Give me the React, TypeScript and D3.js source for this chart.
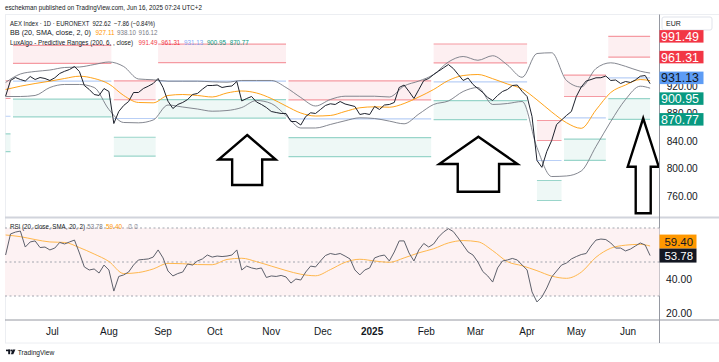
import React from "react";
import * as d3 from "d3";

// ---------- DATA ----------
// daily closes sampled every 2 bars (bar 0 = early Jun 2024, bar 262 = 13 Jun 2025)
const priceBars = d3.range(0, 263, 2);
const priceClose = [
  904.4, 927.3, 931.6, 928.7, 926.5, 933.1, 928.7, 931.6, 930.2, 927.3,
  931.2, 937.5, 940.7, 943.3, 947.6, 940.4, 920.0, 914.2, 906.9, 905.5,
  915.6, 911.3, 864.7, 882.2, 890.9, 896.7, 909.8, 909.8, 915.6, 919.0,
  922.9, 930.2, 917.1, 897.2, 886.5, 892.4, 895.3, 899.6, 906.9, 908.4,
  914.6, 920.0, 920.0, 920.7, 917.1, 918.5, 919.3, 925.8, 897.5, 901.1,
  904.0, 896.0, 892.4, 888.0, 882.2, 880.7, 879.3, 879.3, 867.6, 867.6,
  862.5, 874.9, 880.3, 879.3, 885.1, 890.9, 893.4, 892.4, 896.7, 893.1,
  891.3, 889.5, 877.8, 879.3, 877.8, 889.5, 885.1, 891.6, 892.4, 895.3,
  917.1, 920.7, 911.3, 901.1, 914.2, 927.3, 930.2, 936.0, 940.8, 945.7,
  950.5, 944.7, 936.0, 927.3, 930.9, 921.5, 915.6, 909.8, 902.5, 898.2,
  905.5, 911.3, 914.2, 920.0, 920.7, 911.3, 904.0, 874.9, 811.0, 801.0,
  824.0, 840.0, 863.3, 869.8, 876.4, 882.2, 904.0, 917.8, 926.5, 928.7,
  931.2, 931.3, 933.8, 927.3, 928.0, 922.9, 925.8, 924.4, 928.0, 933.5,
  934.5, 922.62,
];
const rsiValues = [
  54.1, 66.5, 67.6, 68.2, 58.8, 61.8, 62.4, 58.5, 58.8, 57.1,
  58.2, 61.5, 60.6, 61.8, 62.9, 55.3, 47.1, 45.3, 45.9, 43.5,
  48.2, 45.3, 32.9, 41.5, 42.4, 44.1, 48.2, 51.2, 51.5, 51.8,
  52.9, 57.1, 52.4, 44.7, 41.8, 43.2, 44.1, 48.8, 48.2, 50.6,
  51.8, 54.1, 52.9, 53.5, 53.2, 53.5, 54.1, 57.1, 45.3, 47.6,
  46.5, 45.9, 46.5, 40.9, 41.8, 41.5, 42.1, 41.2, 37.6, 40.0,
  39.4, 44.1, 47.6, 47.1, 50.6, 53.8, 55.0, 54.4, 55.0, 53.5,
  51.8, 45.3, 42.4, 45.3, 46.5, 52.4, 53.5, 54.1, 50.6, 55.9,
  62.4, 62.4, 55.3, 50.6, 57.1, 60.9, 58.8, 60.6, 64.7, 67.6,
  69.6, 67.9, 64.1, 60.0, 55.9, 54.1, 50.0, 44.4, 41.8, 38.2,
  46.5, 50.6, 51.2, 52.1, 51.2, 48.2, 45.3, 32.4, 26.5, 29.4,
  34.7, 41.2, 44.7, 48.2, 49.4, 51.8, 53.2, 54.4, 55.0, 59.4,
  62.9, 63.5, 63.2, 61.2, 58.2, 58.2, 56.5, 57.6, 59.4, 61.2,
  60.0, 53.78,
];

// smoother series sampled every 6 bars (+ last bar)
const slowBars = d3.range(0, 259, 6).concat([262]);
const bbUpper = [
  924.4, 936.7, 940.4, 942.5, 946.2, 946.9, 950.5, 954.2, 947.6, 929.5,
  928.3, 926.3, 926.3, 926.3, 925.4, 924.8, 927.3, 927.3, 927.3, 917.1,
  902.5, 890.2, 899.6, 904.4, 904.4, 904.4, 903.3, 919.3, 926.5, 936.0,
  954.2, 962.2, 956.7, 963.3, 949.8, 931.9, 966.5, 967.6, 927.3, 917.8,
  944.7, 953.0, 947.9, 940.8, 938.1,
];
const bbBasis = [
  914.2, 919.0, 922.9, 926.3, 930.2, 933.5, 930.2, 922.2, 905.5, 895.3,
  894.8, 905.5, 906.9, 905.5, 903.3, 909.1, 912.0, 909.1, 901.1, 890.2,
  880.0, 875.6, 876.4, 882.2, 887.6, 889.0, 888.4, 893.8, 903.3, 914.2,
  927.3, 934.5, 936.0, 929.9, 922.2, 914.9, 899.2, 881.5, 865.9, 857.7,
  884.4, 909.8, 920.7, 928.7, 927.11,
];
const bbLower = [
  904.0, 904.0, 905.5, 917.1, 921.5, 921.5, 917.1, 885.1, 866.2, 865.7,
  869.8, 891.6, 888.7, 885.8, 882.6, 883.6, 888.0, 898.2, 893.8, 876.4,
  858.2, 858.2, 863.3, 868.7, 873.0, 872.0, 868.2, 864.3, 878.5, 892.4,
  897.5, 911.3, 917.1, 892.4, 893.8, 896.7, 829.8, 787.6, 788.4, 795.6,
  831.3, 867.6, 899.6, 919.0, 916.12,
];
const rsiMA = [
  65.9, 64.9, 63.2, 61.8, 61.5, 58.5, 54.7, 50.3, 43.2, 43.8,
  45.9, 49.2, 49.0, 48.5, 48.4, 51.5, 52.2, 50.2, 47.6, 45.0,
  42.8, 41.9, 45.5, 49.8, 51.6, 50.6, 49.8, 52.4, 55.4, 57.8,
  61.2, 62.6, 61.9, 56.7, 50.2, 47.8, 44.9, 41.7, 40.4, 44.0,
  52.8, 58.1, 59.9, 60.4, 59.40,
];

// LuxAlgo predictive ranges: segments (bar start / end) and their 5 levels
const prStart = [0, 3, 44, 62, 115, 174, 216, 227, 245];
const prEnd = [2, 43, 61, 114, 173, 212, 226, 244, 262];
const prR2 = [926.9, 978.3, 926.6, 980.1, 926.6, 980.4, 869.1, 935.0, 991.49];
const prR1 = [901.1, 952.3, 899.3, 953.2, 899.1, 952.9, 840.0, 904.0, 961.31];
const prAvg = [875.3, 926.3, 872.0, 926.3, 871.6, 925.4, 810.9, 873.0, 931.13];
const prS1 = [849.5, 900.3, 844.7, 899.4, 844.1, 897.9, 781.8, 842.0, 900.95];
const prS2 = [823.7, 874.3, 817.4, 872.5, 816.6, 870.4, 752.7, 811.0, 870.77];

// time axis
const monthBars = [19, 42, 64, 85, 108, 129, 149, 171, 191, 212, 232, 253];
const monthLabels = ["Jul", "Aug", "Sep", "Oct", "Nov", "Dec", "2025", "Feb", "Mar", "Apr", "May", "Jun"];

// axis ticks
const priceTicks = [760, 800, 840, 880, 920];
const rsiTicks = [20, 40];
const rsiLevels = [70, 50, 30];

// hand-drawn up arrows (bar, tip, head base, shaft bottom, half widths in bars)
const arrowBar = [98.2, 192.2, 259.2];
const arrowTip = [848.0, 845.5, 872.3];
const arrowHead = [812.4, 805.8, 801.9];
const arrowBase = [775.3, 765.5, 734.1];
const arrowHeadHalf = [11.6, 15.9, 6.3];
const arrowShaftHalf = [6.1, 8.4, 3.05];

// ---------- STYLE ----------
const FONT = "'Liberation Sans', Arial, sans-serif";
const TXT = "#131722";
const RED = "#f23645";
const GREEN = "#089981";
const BLUE = "#5d9cf5";

export default function App() {
  const W = 719;
  const H = 362;
  const left = 5;
  const axisX = 659.5;
  const mainTop = 14.5;
  const mainBot = 217.5;
  const rsiTop = 218.5;
  const rsiBot = 320;
  const timeBot = 343;

  const x = d3.scaleLinear().domain([0, 262]).range([5.6, 650.1]);
  const yP = d3.scaleLinear().domain([760, 840]).range([195.5, 140.5]);
  const yR = d3.scaleLinear().domain([20, 40]).range([313, 279]);

  const priceLine = d3.line<number>().x((_, i) => x(priceBars[i])).y((d) => yP(d));
  const slowLine = d3
    .line<number>()
    .x((_, i) => x(slowBars[i]))
    .y((d) => yP(d))
    .curve(d3.curveMonotoneX);
  const rsiLine = d3.line<number>().x((_, i) => x(priceBars[i])).y((d) => yR(d));
  const rsiMaLine = d3
    .line<number>()
    .x((_, i) => x(slowBars[i]))
    .y((d) => yR(d))
    .curve(d3.curveMonotoneX);

  const last = prStart.length - 1;
  const mainLabels = [
    { v: prR2[last], bg: RED, fg: "#ffffff" },
    { v: prR1[last], bg: RED, fg: "#ffffff" },
    { v: prAvg[last], bg: BLUE, fg: TXT },
    { v: prS1[last], bg: GREEN, fg: "#ffffff" },
    { v: prS2[last], bg: GREEN, fg: "#ffffff" },
  ];
  const legendPR = [
    { v: prR2[last], c: RED },
    { v: prR1[last], c: RED },
    { v: prAvg[last], c: "#7fa6f7" },
    { v: prS1[last], c: GREEN },
    { v: prS2[last], c: GREEN },
  ];
  const legendBB = [
    { v: bbBasis[bbBasis.length - 1], c: "#ff9800" },
    { v: bbUpper[bbUpper.length - 1], c: "#787b86" },
    { v: bbLower[bbLower.length - 1], c: "#787b86" },
  ];

  const rsiLast = rsiValues[rsiValues.length - 1];
  const maLast = rsiMA[rsiMA.length - 1];
  const rsiBoxH = 14;
  const rsiLabelY = yR(rsiLast);
  let maLabelY = yR(maLast);
  if (Math.abs(maLabelY - rsiLabelY) < rsiBoxH) maLabelY = rsiLabelY - rsiBoxH;

  const arrowPts = arrowBar.map((b, i) => {
    const pts: [number, number][] = [
      [x(b), yP(arrowTip[i])],
      [x(b + arrowHeadHalf[i]), yP(arrowHead[i])],
      [x(b + arrowShaftHalf[i]), yP(arrowHead[i])],
      [x(b + arrowShaftHalf[i]), yP(arrowBase[i])],
      [x(b - arrowShaftHalf[i]), yP(arrowBase[i])],
      [x(b - arrowShaftHalf[i]), yP(arrowHead[i])],
      [x(b - arrowHeadHalf[i]), yP(arrowHead[i])],
    ];
    return pts.map((p) => p.join(",")).join(" ");
  });

  const LFS = 6.7;

  return (
    <svg
      width={W}
      height={H}
      viewBox={`0 0 ${W} ${H}`}
      style={{ position: "absolute", left: 0, top: 0, background: "#ffffff", fontFamily: FONT }}
    >
      <defs>
        <clipPath id="mainClip">
          <rect x={left} y={mainTop} width={axisX - left} height={mainBot - mainTop} />
        </clipPath>
        <clipPath id="rsiClip">
          <rect x={left} y={rsiTop} width={axisX - left} height={rsiBot - rsiTop} />
        </clipPath>
      </defs>
      <rect x={0} y={0} width={W} height={H} fill="#ffffff" />

      {/* header */}
      <text x={5} y={9.6} fontSize={7} fill={TXT} textLength={197} lengthAdjust="spacingAndGlyphs">
        eschekman published on TradingView.com, Jun 16, 2025 07:24 UTC+2
      </text>

      {/* frame */}
      <rect x={left + 0.5} y={mainTop} width={W - left} height={timeBot - mainTop} fill="none" stroke="#eceef2" />

      {/* ----- MAIN PANE ----- */}
      <g clipPath="url(#mainClip)">
        {prStart.map((s, i) => {
          const x0 = x(s);
          const x1 = x(prEnd[i]);
          return (
            <g key={"pr" + i}>
              <rect x={x0} y={yP(prR2[i])} width={x1 - x0} height={yP(prR1[i]) - yP(prR2[i])} fill="#fdeff1" />
              <rect x={x0} y={yP(prS1[i])} width={x1 - x0} height={yP(prS2[i]) - yP(prS1[i])} fill="#eef8f6" />
              <line x1={x0} x2={x1} y1={yP(prR2[i])} y2={yP(prR2[i])} stroke="#f59aa2" strokeWidth={1.2} />
              <line x1={x0} x2={x1} y1={yP(prR1[i])} y2={yP(prR1[i])} stroke="#f59aa2" strokeWidth={1.2} />
              <line x1={x0} x2={x1} y1={yP(prAvg[i])} y2={yP(prAvg[i])} stroke="#b9cff6" strokeWidth={1.2} />
              <line x1={x0} x2={x1} y1={yP(prS1[i])} y2={yP(prS1[i])} stroke="#99d5ca" strokeWidth={1.2} />
              <line x1={x0} x2={x1} y1={yP(prS2[i])} y2={yP(prS2[i])} stroke="#99d5ca" strokeWidth={1.2} />
            </g>
          );
        })}
        <path d={slowLine(bbUpper) || ""} fill="none" stroke="#767983" strokeWidth={0.9} />
        <path d={slowLine(bbLower) || ""} fill="none" stroke="#767983" strokeWidth={0.9} />
        <path d={slowLine(bbBasis) || ""} fill="none" stroke="#ff9800" strokeWidth={0.9} />
        <path d={priceLine(priceClose) || ""} fill="none" stroke="#1e222d" strokeWidth={1} strokeLinejoin="round" />
        {arrowPts.map((p, i) => (
          <polygon key={"ar" + i} points={p} fill="#ffffff" stroke="#000000" strokeWidth={2.4} strokeLinejoin="miter" />
        ))}
      </g>

      {/* legend */}
      <text x={10} y={25.5} fontSize={LFS} fill={TXT} textLength={145} lengthAdjust="spacingAndGlyphs" style={{ whiteSpace: "pre" }}>
        {"AEX Index · 1D · EURONEXT  922.62  −7.86 (−0.84%)"}
      </text>
      <text x={10} y={35.3} fontSize={LFS} fill={TXT} textLength={81} lengthAdjust="spacingAndGlyphs">
        BB (20, SMA, close, 2, 0)
      </text>
      {legendBB.map((l, i) => (
        <text key={"lb" + i} x={95.5 + i * 21.5} y={35.3} fontSize={LFS} fill={l.c} textLength={19} lengthAdjust="spacingAndGlyphs">
          {l.v.toFixed(2)}
        </text>
      ))}
      <text x={10} y={45.2} fontSize={LFS} fill={TXT} textLength={123} lengthAdjust="spacingAndGlyphs">
        LuxAlgo - Predictive Ranges (200, 6, , close)
      </text>
      {legendPR.map((l, i) => (
        <text key={"lp" + i} x={138.5 + i * 22.8} y={45.2} fontSize={LFS} fill={l.c} textLength={19} lengthAdjust="spacingAndGlyphs">
          {l.v.toFixed(2)}
        </text>
      ))}

      {/* pane separators */}
      <line x1={left} x2={W} y1={mainBot} y2={mainBot} stroke="#d1d4dc" strokeWidth={2} />
      <line x1={left} x2={W} y1={rsiBot} y2={rsiBot} stroke="#9598a1" strokeWidth={1} />
      <line x1={axisX} x2={axisX} y1={mainTop} y2={timeBot} stroke="#9598a1" strokeWidth={1} />

      {/* price axis */}
      <rect x={662} y={17} width={50} height={13} fill="#ffffff" stroke="#e0e3eb" rx={2} />
      <text x={666} y={23.5} fontSize={7} fill={TXT} dominantBaseline="central">EUR</text>
      {priceTicks.map((t) => (
        <text key={"pt" + t} x={666.7} y={yP(t)} fontSize={10.5} fill={TXT} dominantBaseline="central" textLength={31} lengthAdjust="spacingAndGlyphs">
          {t.toFixed(2)}
        </text>
      ))}
      {mainLabels.map((l, i) => (
        <g key={"ml" + i}>
          <rect x={axisX} y={yP(l.v) - 6.25} width={44} height={12.5} fill={l.bg} />
          <text x={661} y={yP(l.v) + 0.5} fontSize={12} fill={l.fg} dominantBaseline="central" textLength={38} lengthAdjust="spacingAndGlyphs">
            {l.v.toFixed(2)}
          </text>
        </g>
      ))}

      {/* ----- RSI PANE ----- */}
      <rect x={left} y={yR(70)} width={axisX - left} height={yR(30) - yR(70)} fill="#fdf2f3" />
      {rsiLevels.map((lv) => (
        <line key={"lv" + lv} x1={left} x2={axisX} y1={yR(lv)} y2={yR(lv)} stroke="#a3a6af" strokeWidth={1} strokeDasharray="2 2.5" />
      ))}
      <g clipPath="url(#rsiClip)">
        <path d={rsiMaLine(rsiMA) || ""} fill="none" stroke="#ffb74d" strokeWidth={1} />
        <path d={rsiLine(rsiValues) || ""} fill="none" stroke="#5d606b" strokeWidth={1} strokeLinejoin="round" />
      </g>
      <text x={10} y={228.6} fontSize={7} fill={TXT} textLength={75} lengthAdjust="spacingAndGlyphs">
        RSI (20, close, SMA, 20, 2)
      </text>
      <text x={87.3} y={228.6} fontSize={7} fill="#787b86" textLength={15.4} lengthAdjust="spacingAndGlyphs">
        {rsiLast.toFixed(2)}
      </text>
      <text x={106} y={228.6} fontSize={7} fill="#ff9800" textLength={16} lengthAdjust="spacingAndGlyphs">
        {maLast.toFixed(2)}
      </text>
      <text x={127.7} y={228.6} fontSize={7} fill="#787b86" textLength={10.6} lengthAdjust="spacingAndGlyphs" style={{ whiteSpace: "pre" }}>
        {"∅  ∅"}
      </text>
      {rsiTicks.map((t) => (
        <text key={"rt" + t} x={666} y={yR(t)} fontSize={10.5} fill={TXT} dominantBaseline="central" textLength={26} lengthAdjust="spacingAndGlyphs">
          {t.toFixed(2)}
        </text>
      ))}
      <rect x={axisX} y={maLabelY - rsiBoxH / 2} width={37} height={rsiBoxH} fill="#ff9800" />
      <text x={664.5} y={maLabelY + 0.5} fontSize={11.5} fill={TXT} dominantBaseline="central" textLength={28.5} lengthAdjust="spacingAndGlyphs">
        {maLast.toFixed(2)}
      </text>
      <rect x={axisX} y={rsiLabelY - rsiBoxH / 2} width={37} height={rsiBoxH} fill="#131722" />
      <text x={664.5} y={rsiLabelY + 0.5} fontSize={11.5} fill="#ffffff" dominantBaseline="central" textLength={28.5} lengthAdjust="spacingAndGlyphs">
        {rsiLast.toFixed(2)}
      </text>

      {/* time axis */}
      {monthBars.map((b, i) => (
        <text
          key={"m" + i}
          x={x(b)}
          y={331}
          fontSize={10}
          fontWeight={monthLabels[i] === "2025" ? "bold" : "normal"}
          fill={TXT}
          textAnchor="middle"
          dominantBaseline="central"
        >
          {monthLabels[i]}
        </text>
      ))}

      {/* TradingView logo */}
      <g fill={TXT}>
        <rect x={6} y={349.6} width={4.2} height={1.6} />
        <rect x={8.2} y={349.6} width={1.9} height={4.6} />
        <circle cx={11.4} cy={350.5} r={0.95} />
        <path d="M12.6 349.6 L15.4 349.6 L13.3 354.2 L10.9 354.2 Z" />
      </g>
      <text x={17.8} y={352} fontSize={7.5} fill={TXT} dominantBaseline="central" textLength={36.5} lengthAdjust="spacingAndGlyphs">
        TradingView
      </text>
    </svg>
  );
}
